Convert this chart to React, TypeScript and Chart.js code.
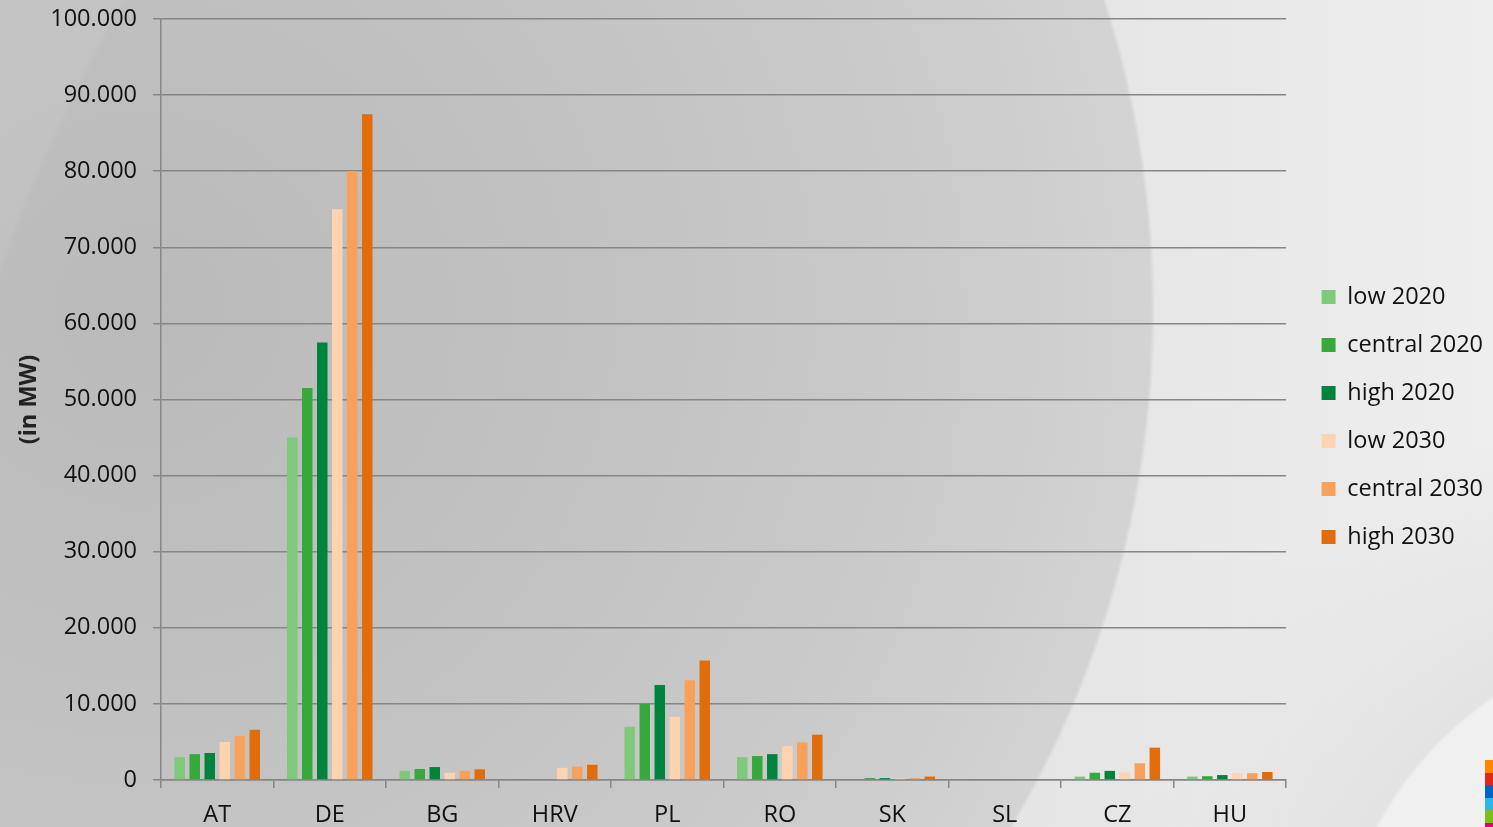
import React, { useEffect, useRef } from "react";
import { Chart, registerables } from "chart.js";

Chart.register(...registerables);

// Installed capacity per country and scenario (MW)
const categories = ["AT", "DE", "BG", "HRV", "PL", "RO", "SK", "SL", "CZ", "HU"];
const low2020 = [3000, 45000, 1200, 0, 7000, 3000, 100, 0, 450, 450];
const central2020 = [3400, 51500, 1450, 0, 10000, 3150, 250, 0, 950, 500];
const high2020 = [3550, 57500, 1700, 0, 12500, 3400, 250, 0, 1200, 650];
const low2030 = [5000, 75000, 950, 1600, 8300, 4450, 200, 0, 1000, 900];
const central2030 = [5800, 80000, 1200, 1750, 13100, 4950, 250, 0, 2200, 900];
const high2030 = [6600, 87500, 1400, 2000, 15700, 5950, 450, 0, 4250, 1050];

const seriesNames = ["low 2020", "central 2020", "high 2020", "low 2030", "central 2030", "high 2030"];
const seriesValues = [low2020, central2020, high2020, low2030, central2030, high2030];
const seriesColors = ["#7fc97a", "#36a93c", "#00833d", "#fdd3b0", "#f9a05b", "#e36c0a"];

const yTickMax = 100000;
const yTickStep = 10000;

const stripeColors = ["#ff8400", "#e1261c", "#0064c8", "#2fb6e8", "#7cbf1c", "#e2007a"];

const formatThousands = (v: number) =>
  String(Math.round(v)).replace(/\B(?=(\d{3})+(?!\d))/g, ".");

const FONT = "'Open Sans', sans-serif";

// Lift the legend column slightly so it sits a little above the canvas middle
const legendLift = {
  id: "legendLift",
  afterLayout(chart: any) {
    const l = chart.legend;
    if (l) l.bottom -= 12;
  },
};

export default function App() {
  const canvasRef = useRef<HTMLCanvasElement | null>(null);

  useEffect(() => {
    document.body.style.margin = "0";
    const canvas = canvasRef.current;
    if (!canvas) return;

    const gridColor = "#868686";
    const textColor = "#111111";

    const chart = new Chart(canvas, {
      type: "bar",
      data: {
        labels: categories,
        datasets: seriesNames.map((name, i) => ({
          label: name,
          data: seriesValues[i],
          backgroundColor: seriesColors[i],
          borderWidth: 0,
          categoryPercentage: 0.8,
          barPercentage: 0.7,
        })),
      },
      plugins: [legendLift],
      options: {
        responsive: false,
        animation: false,
        layout: { padding: { top: 19, bottom: 0, left: 0, right: 0 } },
        plugins: {
          tooltip: { enabled: false },
          legend: {
            position: "right",
            align: "center",
            labels: {
              boxWidth: 14,
              boxHeight: 14,
              padding: 24.5,
              color: textColor,
              font: { family: FONT, size: 23.5 },
            },
          },
        },
        scales: {
          x: {
            grid: {
              display: true,
              drawOnChartArea: false,
              drawTicks: true,
              tickLength: 8,
              color: gridColor,
              lineWidth: 1.5,
            },
            border: { display: true, color: gridColor, width: 1.5 },
            ticks: {
              color: textColor,
              padding: 13,
              maxRotation: 0,
              font: { family: FONT, size: 23.5 },
            },
            afterFit: (s: any) => {
              s.height = 47;
            },
          },
          y: {
            min: 0,
            max: yTickMax,
            grid: {
              color: gridColor,
              lineWidth: 1.5,
              drawTicks: true,
              tickLength: 8,
            },
            border: { display: true, color: gridColor, width: 1.5 },
            ticks: {
              stepSize: yTickStep,
              color: textColor,
              padding: 16,
              font: { family: FONT, size: 23.5 },
              callback: (v: any) => formatThousands(Number(v)),
            },
            title: {
              display: true,
              text: "(in MW)",
              color: "#222222",
              padding: { top: 15, bottom: 0 },
              font: { family: FONT, size: 23.5, weight: "bold" },
            },
            afterFit: (s: any) => {
              s.width = 161;
              s.paddingTop = 0;
              s.paddingBottom = 0;
            },
          },
          spacer: {
            position: "right",
            display: true,
            grid: { display: false, drawTicks: false },
            border: { display: false },
            ticks: { display: false },
            afterFit: (s: any) => {
              s.width = 11;
              s.paddingTop = 0;
              s.paddingBottom = 0;
            },
          },
        },
      } as any,
    });

    return () => chart.destroy();
  }, []);

  const background = [
    "radial-gradient(circle 600px at 1700px 1000px, #f0f0f0 0%, #f0f0f0 60.8%, #e3e3e3 61.4%, rgba(232,232,232,0) 100%)",
    "radial-gradient(circle 1724px at 1620px 850px, rgba(255,255,255,0) 99.6%, rgba(255,255,255,0.07) 100%)",
    "radial-gradient(circle 1015px at 140px 310px, #bababa 0%, #c2c2c2 45%, #cbcbcb 80%, #d3d3d3 99.6%, rgba(211,211,211,0) 100%)",
    "linear-gradient(90deg, #dddddd 0%, #e6e6e6 75%, #eeeeee 100%)",
  ].join(", ");

  return (
    <div
      style={{
        position: "fixed",
        left: 0,
        top: 0,
        width: 1493,
        height: 827,
        overflow: "hidden",
        background,
      }}
    >
      <canvas ref={canvasRef} width={1493} height={827} style={{ position: "absolute", left: 0, top: 0 }} />
      {stripeColors.map((c, i) => (
        <div
          key={c}
          style={{
            position: "absolute",
            left: 1485,
            top: 760 + i * 12.5,
            width: 8,
            height: 12.5,
            background: c,
          }}
        />
      ))}
    </div>
  );
}
